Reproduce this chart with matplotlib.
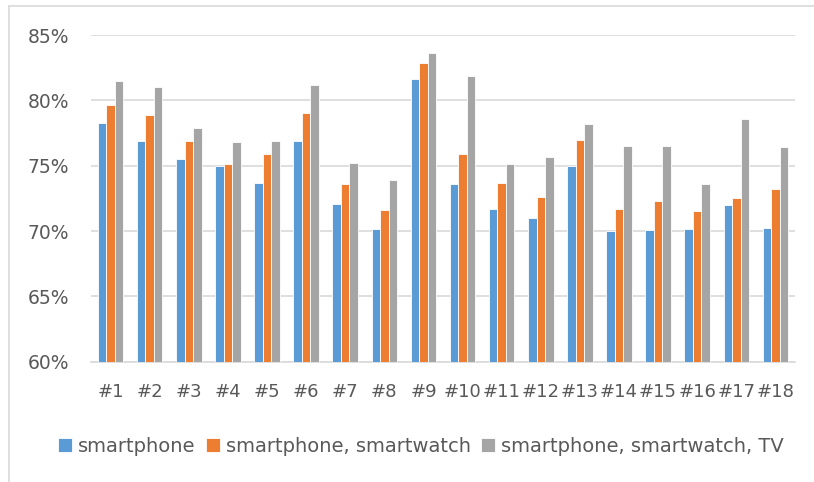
import numpy as np
import matplotlib
matplotlib.use("Agg")
import matplotlib.pyplot as plt
from matplotlib.lines import Line2D
from matplotlib.ticker import PercentFormatter

labels = ['#%d' % i for i in range(1, 19)]
smartphone = [78.3, 76.9, 75.5, 74.95, 73.65, 76.9, 72.1, 70.15, 81.6, 73.6,
              71.7, 71.0, 75.0, 70.0, 70.1, 70.15, 72.0, 70.2]
smartphone_watch = [79.65, 78.9, 76.9, 75.1, 75.9, 79.0, 73.6, 71.6, 82.85, 75.9,
                    73.65, 72.6, 77.0, 71.65, 72.3, 71.5, 72.5, 73.2]
smartphone_watch_tv = [81.5, 81.0, 77.85, 76.8, 76.9, 81.2, 75.2, 73.9, 83.6, 81.9,
                       75.1, 75.65, 78.2, 76.5, 76.5, 73.6, 78.6, 76.4]
series_names = ['smartphone', 'smartphone, smartwatch', 'smartphone, smartwatch, TV']
colors = ['#5B9BD5', '#ED7D31', '#A5A5A5']
text_col = '#595959'
grid_col = '#D9D9D9'

plt.rcParams['font.family'] = ['DejaVu Sans']
fig = plt.figure(figsize=(8.14, 4.82), dpi=100)
ax = fig.add_axes([91/814, 1-361.7/482, (795-91)/814, (361.7-35)/482])

x = np.arange(len(labels))
w = 0.218
for k, vals in enumerate([smartphone, smartphone_watch, smartphone_watch_tv]):
    ax.bar(x + (k-1)*w, vals, w, color=colors[k], edgecolor='white',
           linewidth=0.6, label=series_names[k], zorder=3)

ax.set_xlim(-0.5, len(labels)-0.5)
ax.set_ylim(60, 85)
ax.set_yticks([60, 65, 70, 75, 80, 85])
ax.yaxis.set_major_formatter(PercentFormatter(decimals=0))
ax.set_xticks(x)
ax.set_xticklabels(labels)
ax.grid(axis='y', color=grid_col, linewidth=1.2, zorder=0)
for s in ['top', 'right', 'left']:
    ax.spines[s].set_visible(False)
ax.spines['bottom'].set_color(grid_col)
ax.spines['bottom'].set_linewidth(1.2)
ax.tick_params(axis='both', length=0, labelsize=13, colors=text_col)
ax.tick_params(axis='y', labelsize=13.5, pad=16)
ax.tick_params(axis='x', pad=15)

fig.legend(loc='center', bbox_to_anchor=(0.517, 1-446/482), ncol=3, frameon=False,
           fontsize=14, labelcolor=text_col, handlelength=0.75, handleheight=0.75,
           handletextpad=0.3, columnspacing=0.5)

# chart frame (left and top edges visible)
fig.add_artist(Line2D([9/814, 9/814], [0, 1-6.3/482], transform=fig.transFigure,
                      color=grid_col, linewidth=1.2))
fig.add_artist(Line2D([9/814, 1], [1-6.3/482, 1-6.3/482], transform=fig.transFigure,
                      color=grid_col, linewidth=1.2))

fig.savefig('out.png', dpi=100)
